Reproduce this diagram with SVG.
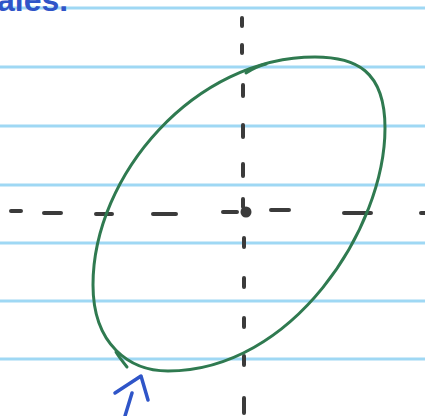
<svg xmlns="http://www.w3.org/2000/svg" width="425" height="416" viewBox="0 0 425 416">
<style>
.rule{stroke:#9fd8f4;stroke-width:3}
.dash{stroke:#3b3b3b;stroke-width:4;stroke-linecap:round;fill:none}
.green{stroke:#2f7a50;stroke-width:3;fill:none;stroke-linecap:round;stroke-linejoin:round}
.blue{stroke:#2f55c8;stroke-width:3.5;fill:none;stroke-linecap:round;stroke-linejoin:round}
</style>
<rect width="425" height="416" fill="#ffffff"/>
<g id="paper-lines">
<line class="rule" x1="0" y1="8" x2="425" y2="8"/>
<line class="rule" x1="0" y1="67" x2="425" y2="67"/>
<line class="rule" x1="0" y1="126" x2="425" y2="126"/>
<line class="rule" x1="0" y1="185" x2="425" y2="185"/>
<line class="rule" x1="0" y1="243" x2="425" y2="243"/>
<line class="rule" x1="0" y1="301" x2="425" y2="301"/>
<line class="rule" x1="0" y1="359" x2="425" y2="359"/>
</g>
<g id="caption">
<text x="-3" y="11" font-family="Liberation Sans, sans-serif" font-weight="bold" font-size="32" fill="#2f55c8">ales.</text>
</g>
<g id="axes">
<path class="dash" d="M242 18V26M242 45V53M243 85V96M243 125V137M243 164V176M243 199V207M244 238V247M244 278V287M244 318V327M244 356V365M244 398V413"/>
<path class="dash" d="M11 211H21M44 213H61M96 214H112M153 214H176M223 212H237M271 210H289M344 213H371M421 213H425"/>
<circle cx="246" cy="212" r="5.5" fill="#3b3b3b"/>
</g>
<g id="ellipse">
<path class="green" d="M315 57C355 57 385 70 385 128C385 229 292 371 168 371C130 371 93 345 93 285C93 175 195 57 315 57Z"/>
<path class="green" d="M246 73C252 69 258 66 266 64"/>
<path class="green" d="M116 352C119 357 123 362 127 367"/>
</g>
<g id="arrow">
<path class="blue" d="M115 393L141 376L148 400"/>
<path class="blue" d="M132 393L125 416"/>
</g>
</svg>
